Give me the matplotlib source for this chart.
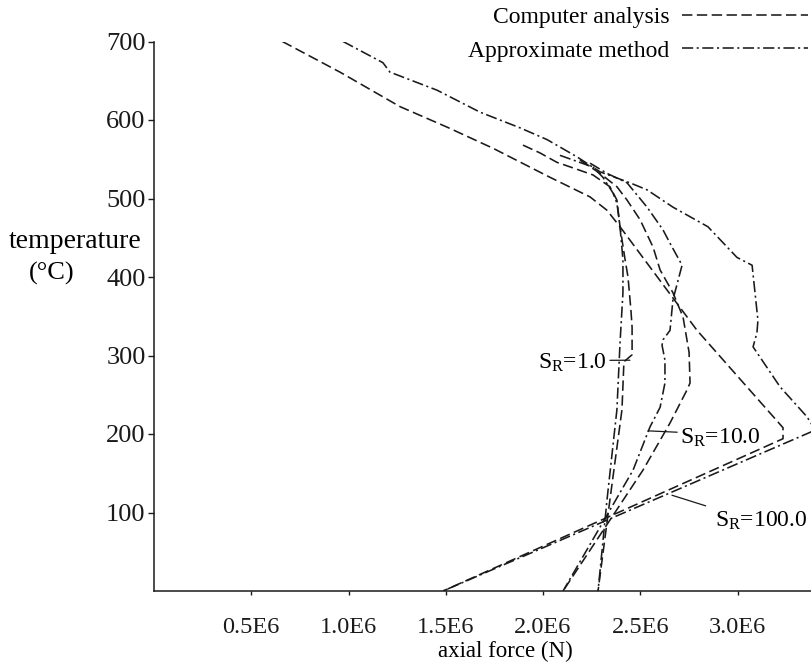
import matplotlib
matplotlib.use('Agg')
import matplotlib.pyplot as plt

plt.rcParams['font.family'] = ['Liberation Serif', 'DejaVu Serif']
plt.rcParams['mathtext.fontset'] = 'custom'
plt.rcParams['mathtext.rm'] = 'Liberation Serif'
plt.rcParams['mathtext.it'] = 'Liberation Serif:italic'

# ---- data (axial force in 1E6 N, temperature in deg C) ----
sr100_comp_force = [0.66, 0.956, 1.265, 1.506, 1.743, 1.830, 2.036, 2.242, 2.329, 2.396, 2.792, 3.234, 3.234, 1.486]
sr100_comp_temp  = [700, 661, 617, 591, 564, 553, 527, 502, 485, 464, 332, 208, 194, 0]

sr100_appr_force = [0.972, 1.177, 1.213, 1.455, 1.676, 1.882, 2.021, 2.175, 2.293, 2.447, 2.535, 2.668, 2.848,
                    2.997, 3.075, 3.105, 3.100, 3.080, 3.219, 3.357, 3.40, 1.486]
sr100_appr_temp  = [700, 673, 661, 638, 610, 590, 575, 553, 534, 520, 511, 489, 464,
                    425, 415, 345, 329, 311, 260, 222, 205, 0]

sr10_comp_force = [2.190, 2.293, 2.380, 2.432, 2.499, 2.566, 2.602, 2.668, 2.720, 2.751, 2.756, 2.740, 2.653, 2.514, 2.103]
sr10_comp_temp  = [549, 532, 515, 498, 473, 438, 409, 380, 349, 304, 265, 256, 214, 154, 0]

sr10_appr_force = [2.242, 2.329, 2.432, 2.535, 2.617, 2.653, 2.715, 2.668, 2.653, 2.617, 2.612, 2.627, 2.627,
                   2.602, 2.550, 2.463, 2.103]
sr10_appr_temp  = [545, 532, 520, 489, 460, 443, 415, 371, 332, 320, 313, 294, 265,
                   234, 209, 154, 0]

sr1_comp_force = [1.897, 1.985, 2.072, 2.154, 2.257, 2.344, 2.380, 2.396, 2.422, 2.437, 2.452, 2.458, 2.458,
                  2.416, 2.406, 2.344, 2.283]
sr1_comp_temp  = [568, 558, 546, 539, 530, 515, 498, 464, 422, 400, 358, 336, 301,
                  292, 231, 116, 0]

sr1_appr_force = [2.087, 2.257, 2.308, 2.360, 2.380, 2.396, 2.411, 2.411, 2.396, 2.380, 2.329, 2.283]
sr1_appr_temp  = [555, 540, 527, 507, 494, 464, 422, 380, 316, 231, 116, 0]

x_ticks = [0.5, 1.0, 1.5, 2.0, 2.5, 3.0]
x_tick_labels = ['0.5E6', '1.0E6', '1.5E6', '2.0E6', '2.5E6', '3.0E6']
y_ticks = [100, 200, 300, 400, 500, 600, 700]
y_tick_labels = ['100', '200', '300', '400', '500', '600', '700']

# ---- styles ----
col = '#1a1a1a'
lw = 1.15
dash_comp = (0, (6.5, 2.8))
dash_appr = (0, (7, 2.2, 1.3, 2.2))

fig = plt.figure(figsize=(8.12, 6.62), dpi=100)
ax = fig.add_axes([154/812, 71/662, (812-154)/812, (591-41.5)/662])

l_comp, = ax.plot(sr100_comp_force, sr100_comp_temp, color=col, lw=lw, linestyle=dash_comp)
l_appr, = ax.plot(sr100_appr_force, sr100_appr_temp, color=col, lw=lw, linestyle=dash_appr)
ax.plot(sr10_comp_force, sr10_comp_temp, color=col, lw=lw, linestyle=dash_comp)
ax.plot(sr10_appr_force, sr10_appr_temp, color=col, lw=lw, linestyle=dash_appr)
ax.plot(sr1_comp_force, sr1_comp_temp, color=col, lw=lw, linestyle=dash_comp)
ax.plot(sr1_appr_force, sr1_appr_temp, color=col, lw=lw, linestyle=dash_appr)

ax.set_xlim(0, 3.383)
ax.set_ylim(0, 700)
for s in ['top', 'right']:
    ax.spines[s].set_visible(False)
for s in ['left', 'bottom']:
    ax.spines[s].set_linewidth(1.1)
    ax.spines[s].set_color(col)

ax.set_xticks(x_ticks)
ax.set_xticklabels(x_tick_labels, fontsize=17.5)
ax.set_yticks(y_ticks)
ax.set_yticklabels(y_tick_labels, fontsize=19)
ax.tick_params(axis='x', direction='out', length=3, width=1, pad=16, colors=col)
ax.tick_params(axis='y', direction='out', length=4, width=1, pad=2, colors=col)

fig.text(505/812, 1 - 657/662, 'axial force (N)', fontsize=16.5, ha='center', va='baseline')
fig.text(75/812, 1 - 242/662, 'temperature', fontsize=20, ha='center', va='center')
fig.text(52/812, 1 - 273/662, '(\u00b0C)', fontsize=19, ha='center', va='center')

# labels with leaders
ax.annotate(r'S$_{\mathrm{R}}$=1.0', xy=(2.447, 294), xytext=(2.33, 291), fontsize=17,
            ha='right', va='center',
            arrowprops=dict(arrowstyle='-', color=col, lw=0.9, shrinkA=0, shrinkB=0, relpos=(1, 0.6)))
ax.annotate(r'S$_{\mathrm{R}}$=10.0', xy=(2.54, 204), xytext=(2.704, 195), fontsize=17,
            ha='left', va='center',
            arrowprops=dict(arrowstyle='-', color=col, lw=0.9, shrinkA=0, shrinkB=0, relpos=(0, 0.75)))
ax.annotate(r'S$_{\mathrm{R}}$=100.0', xy=(2.663, 122), xytext=(2.884, 90), fontsize=17,
            ha='left', va='center',
            arrowprops=dict(arrowstyle='-', color=col, lw=0.9, shrinkA=0, shrinkB=0, relpos=(-0.1, 1.15)))

fig.legend([l_comp, l_appr], ['Computer analysis', 'Approximate method'],
           loc='upper right', bbox_to_anchor=(810/812, 1 - 4/662), frameon=False,
           markerfirst=False, fontsize=17, handlelength=5.3, handletextpad=0.55,
           labelspacing=0.52, borderpad=0.1, borderaxespad=0)

fig.savefig('out.png', dpi=100)
